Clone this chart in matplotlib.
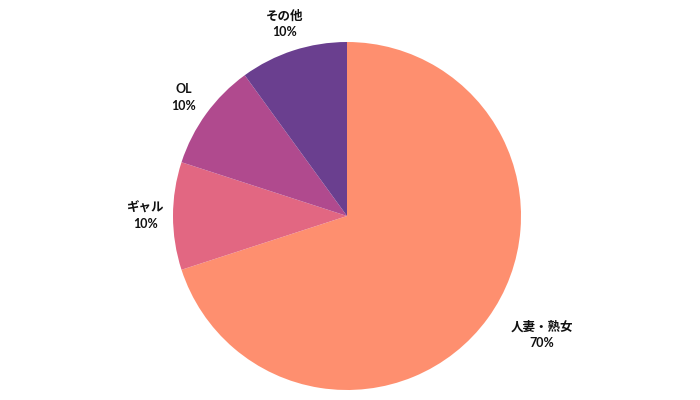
import matplotlib
matplotlib.use("Agg")
import matplotlib.pyplot as plt

labels = ["人妻・熟女", "ギャル", "OL", "その他"]
values = [70, 10, 10, 10]
colors = ["#FE8F6F", "#E26782", "#B04A8E", "#6A3F8F"]

plt.rcParams['font.family'] = ['Lato', 'Noto Sans CJK JP', 'DejaVu Sans']

fig = plt.figure(figsize=(7, 4), dpi=100)
ax = fig.add_axes([0, 0, 1, 1])

r = 174.0
cx, cy = 347.0, 216.0
wedges, texts = ax.pie(
    values, colors=colors, startangle=90, counterclock=False,
    radius=1.0, labels=["%s\n%d%%" % (l, v) for l, v in zip(labels, values)],
    labeldistance=1.16,
    textprops=dict(fontsize=9, fontweight="bold", color="#111111",
                   linespacing=1.45, va="center"),
    wedgeprops=dict(linewidth=0))
for i, t in enumerate(texts):
    t.set_multialignment("center")
    t.set_ha("left" if i == 0 else "center")

ax.set_xlim(-cx / r, (700 - cx) / r)
ax.set_ylim(-(400 - cy) / r, cy / r)
ax.set_aspect("equal")
ax.axis("off")

fig.savefig("out.png", dpi=100)
